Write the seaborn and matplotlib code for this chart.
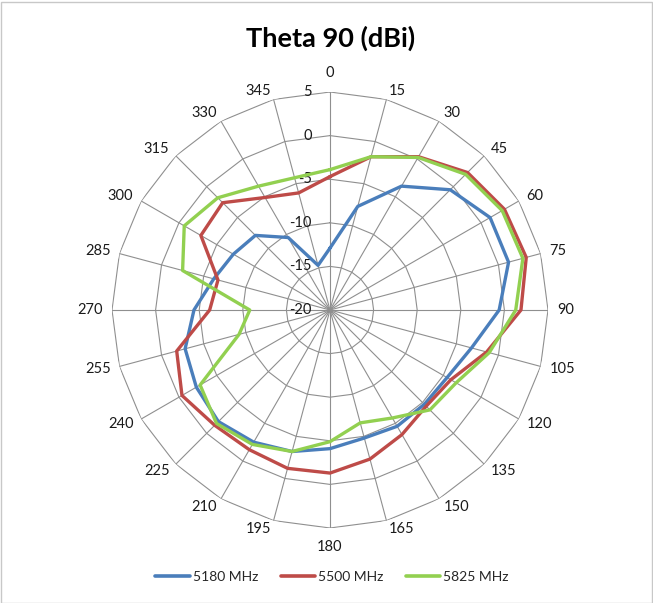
import numpy as np
import pandas as pd
import matplotlib
matplotlib.use("Agg")
import matplotlib.pyplot as plt
import seaborn as sns
from matplotlib.lines import Line2D
from matplotlib.patches import Rectangle

# ---- data ----
angles = list(range(0, 360, 15))
series_names = ["5180 MHz", "5500 MHz", "5825 MHz"]
mhz5180 = [-12.9, -7.7, -3.6, -0.5, 1.2, 1.2, -0.6, -3.2, -4.5, -4.7, -4.6, -4.8,
           -4.1, -3.2, -2.5, -1.9, -2.3, -2.8, -4.4, -6.2, -7.2, -7.9, -10.4, -14.7]
mhz5500 = [-4.7, -1.8, 0.3, 2.3, 3.1, 3.3, 1.9, -1.4, -4.0, -4.4, -3.5, -2.3,
           -1.3, -1.2, -1.5, -1.3, -0.4, -1.8, -6.2, -6.7, -2.9, -2.6, -5.1, -6.1]
mhz5825 = [-3.9, -1.8, 0.2, 2.0, 2.8, 2.9, 1.3, -1.1, -3.3, -3.8, -5.7, -6.6,
           -4.9, -3.2, -2.2, -1.6, -2.8, -9.2, -10.8, -2.5, -0.7, -1.8, -3.6, -4.3]
ring_values = [-20, -15, -10, -5, 0, 5]
title = "Theta 90 (dBi)"
colors = ["#4A7EBB", "#BE4B48", "#92D050"]

# ---- build long table (closed loops) ----
rows = []
for name, vals in zip(series_names, [mhz5180, mhz5500, mhz5825]):
    for a, v in zip(angles + [360], vals + [vals[0]]):
        rows.append({"theta": np.deg2rad(a), "value": v, "series": name})
df = pd.DataFrame(rows)

sns.set_style("white")
plt.rcParams["font.family"] = ["Lato", "DejaVu Sans"]

W, H = 653, 603
fig = plt.figure(figsize=(W / 100, H / 100), dpi=100)
cx, cy, R = 330, 310, 218
ax = fig.add_axes([(cx - R) / W, (H - cy - R) / H, 2 * R / W, 2 * R / H], projection="polar")
ax.set_theta_zero_location("N")
ax.set_theta_direction(-1)
rmin, rmax = ring_values[0], ring_values[-1]
ax.set_ylim(rmin, rmax)
ax.grid(False)
ax.spines["polar"].set_visible(False)
ax.set_xticks([])
ax.set_yticks([])
ax.patch.set_alpha(0)

grid_c = "#8f8f8f"
th_closed = np.deg2rad(angles + [360])
for rv in ring_values[1:]:
    ax.plot(th_closed, [rv] * len(th_closed), color=grid_c, lw=0.8, zorder=1)
for a in angles:
    ax.plot([np.deg2rad(a)] * 2, [rmin, rmax], color=grid_c, lw=0.8, zorder=1)

sns.lineplot(data=df, x="theta", y="value", hue="series", palette=colors,
             hue_order=series_names, estimator=None, sort=False, legend=False,
             linewidth=2.4, ax=ax, zorder=3)
ax.set_xlabel("")
ax.set_ylabel("")

# angle labels (outside the outer ring, aligned away from the chart)
px2pt = 72 / 100
for a in angles:
    t = np.deg2rad(a)
    s, c = np.sin(t), np.cos(t)
    if a in (0, 180):
        gap, ha = 19, "center"
    else:
        gap = 9
        ha = "left" if s > 0 else "right"
    ax.annotate(str(a), xy=(t, rmax), xytext=(gap * s * px2pt, gap * c * px2pt),
                textcoords="offset points", ha=ha, va="center", fontsize=10.5,
                color="#1a1a1a", annotation_clip=False)

# radial value labels
for rv in ring_values:
    ax.annotate(str(rv), xy=(0, rv), xytext=(-13, 0), textcoords="offset points",
                ha="right", va="center", fontsize=10.5, color="#1a1a1a", zorder=2)

fig.text(331 / W, 1 - 38 / H, title, ha="center", va="center", fontsize=19.5,
         fontweight="bold", color="#000000")

handles = [Line2D([0], [0], color=c, lw=2.6) for c in colors]
fig.legend(handles, series_names, loc="center", bbox_to_anchor=(332 / W, 1 - 577 / H),
           ncol=3, frameon=False, fontsize=10, handlelength=2.5, handletextpad=0.2,
           columnspacing=1.6)

fig.patches.append(Rectangle((0.5 / W, 0.5 / H), 1 - 2 / W, 1 - 2 / H, transform=fig.transFigure,
                             fill=False, edgecolor="#c8c8c8", lw=1))

fig.savefig("out.png", dpi=100)
